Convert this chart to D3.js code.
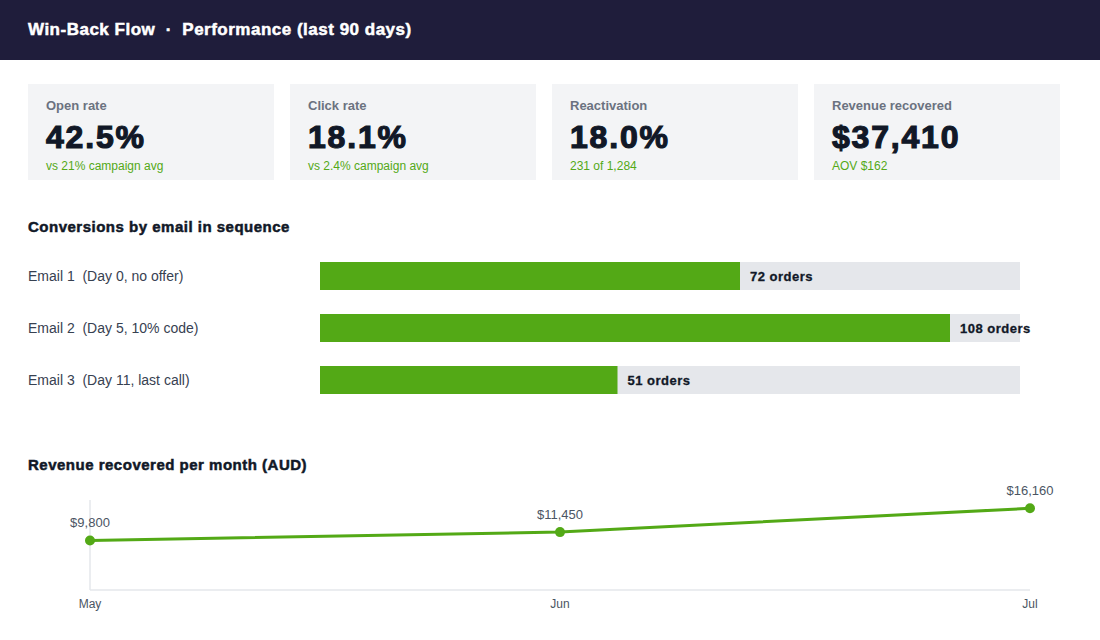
<!DOCTYPE html>
<html>
<head>
<meta charset="utf-8">
<script src="https://cdn.jsdelivr.net/npm/d3@7/dist/d3.min.js"></script>
<style>
  body { margin: 0; background: #fff; }
  svg { display: block; font-family: "Liberation Sans", Arial, sans-serif; }
  text { white-space: pre; }
</style>
</head>
<body>
<svg id="chart" width="1100" height="640"></svg>
<script>
// --- data ---
const kpiLabels = ['Open rate', 'Click rate', 'Reactivation', 'Revenue recovered'];
const kpiValues = ['42.5%', '18.1%', '18.0%', '$37,410'];
const kpiNotes = ['vs 21% campaign avg', 'vs 2.4% campaign avg', '231 of 1,284', 'AOV $162'];

const emails = ['Email 1  (Day 0, no offer)', 'Email 2  (Day 5, 10% code)', 'Email 3  (Day 11, last call)'];
const orders = [72, 108, 51];

const months = ['May', 'Jun', 'Jul'];
const revenue = [9800, 11450, 16160];

const GREEN = '#53a916', DARK = '#111827', GREY = '#4b5563';

const svg = d3.select('#chart');

// heavy text helper (the original looks a bit bolder/wider than plain bold)
const heavy = (sel, sw, ls) => sel.attr('font-weight', 700)
   .attr('stroke', sel.attr('fill')).attr('stroke-width', sw)
   .attr('letter-spacing', ls).attr('paint-order', 'stroke');

// header
svg.append('rect').attr('width', 1100).attr('height', 60).attr('fill', '#1f1d3b');
svg.append('text').attr('x', 28).attr('y', 35)
   .attr('fill', '#fff').attr('font-size', 17)
   .call(heavy, 0.5, 0.5)
   .text('Win-Back Flow  \u00b7  Performance (last 90 days)');

// KPI cards, step 262, width 246
const cards = svg.selectAll('g.card').data(kpiLabels).join('g')
   .attr('class', 'card')
   .attr('transform', (d, i) => `translate(${28 + i * 262},84)`);
cards.append('rect').attr('width', 246).attr('height', 96).attr('fill', '#f3f4f6');
cards.append('text').attr('x', 18).attr('y', 26).attr('font-size', 13).attr('font-weight', 600)
   .attr('fill', '#6b7280').text(d => d);
cards.append('text').attr('x', 18).attr('y', 64).attr('font-size', 32)
   .attr('fill', DARK).call(heavy, 1.2, 1.8).text((d, i) => kpiValues[i]);
cards.append('text').attr('x', 18).attr('y', 86).attr('font-size', 12)
   .attr('fill', GREEN).text((d, i) => kpiNotes[i]);

// bars section
svg.append('text').attr('x', 28).attr('y', 232).attr('font-size', 15)
   .attr('fill', DARK).call(heavy, 0.5, 0.5).text('Conversions by email in sequence');

const x = d3.scaleLinear().domain([0, 120]).range([320, 1020]);
// step 52, bar 28
const yb = d3.scaleBand().domain(emails).range([262, 262 + 52 * 3 - 24]).paddingInner(24 / 52);

const rows = svg.selectAll('g.row').data(emails).join('g').attr('class', 'row');
rows.append('rect').attr('x', x(0)).attr('y', d => yb(d)).attr('width', x(120) - x(0))
   .attr('height', yb.bandwidth()).attr('fill', '#e5e7eb');
rows.append('rect').attr('x', x(0)).attr('y', d => yb(d)).attr('width', (d, i) => x(orders[i]) - x(0))
   .attr('height', yb.bandwidth()).attr('fill', GREEN);
rows.append('text').attr('x', 28).attr('y', d => yb(d) + yb.bandwidth() / 2).attr('dy', '0.35em')
   .attr('font-size', 14).attr('fill', '#374151').text(d => d);
rows.append('text').attr('x', (d, i) => x(orders[i]) + 10).attr('y', d => yb(d) + yb.bandwidth() / 2)
   .attr('dy', '0.35em').attr('font-size', 13).attr('fill', DARK).call(heavy, 0.3, 0.5)
   .text((d, i) => `${orders[i]} orders`);

// line section
svg.append('text').attr('x', 28).attr('y', 470).attr('font-size', 15)
   .attr('fill', DARK).call(heavy, 0.5, 0.5).text('Revenue recovered per month (AUD)');

const lx = d3.scalePoint().domain(months).range([90, 1030]);
const ly = d3.scaleLinear().domain([0, 17800]).range([590, 500]);

svg.append('line').attr('x1', 90).attr('x2', 90).attr('y1', ly.range()[1]).attr('y2', ly(0))
   .attr('stroke', '#e5e7eb').attr('stroke-width', 1.5);
svg.append('line').attr('x1', 90).attr('x2', 1030).attr('y1', ly(0)).attr('y2', ly(0))
   .attr('stroke', '#e5e7eb').attr('stroke-width', 1.5);

svg.selectAll('text.month').data(months).join('text').attr('class', 'month')
   .attr('x', d => lx(d)).attr('y', 608).attr('text-anchor', 'middle')
   .attr('font-size', 12).attr('fill', GREY).text(d => d);

const line = d3.line().x((d, i) => lx(months[i])).y(d => ly(d));
svg.append('path').datum(revenue).attr('d', line).attr('fill', 'none')
   .attr('stroke', GREEN).attr('stroke-width', 3).attr('stroke-linejoin', 'round');

svg.selectAll('circle.pt').data(revenue).join('circle').attr('class', 'pt')
   .attr('cx', (d, i) => lx(months[i])).attr('cy', d => ly(d)).attr('r', 5).attr('fill', GREEN);

svg.selectAll('text.val').data(revenue).join('text').attr('class', 'val')
   .attr('x', (d, i) => lx(months[i])).attr('y', d => ly(d) - 13).attr('text-anchor', 'middle')
   .attr('font-size', 13).attr('fill', GREY).text(d => '$' + d3.format(',')(d));
</script>
</body>
</html>
